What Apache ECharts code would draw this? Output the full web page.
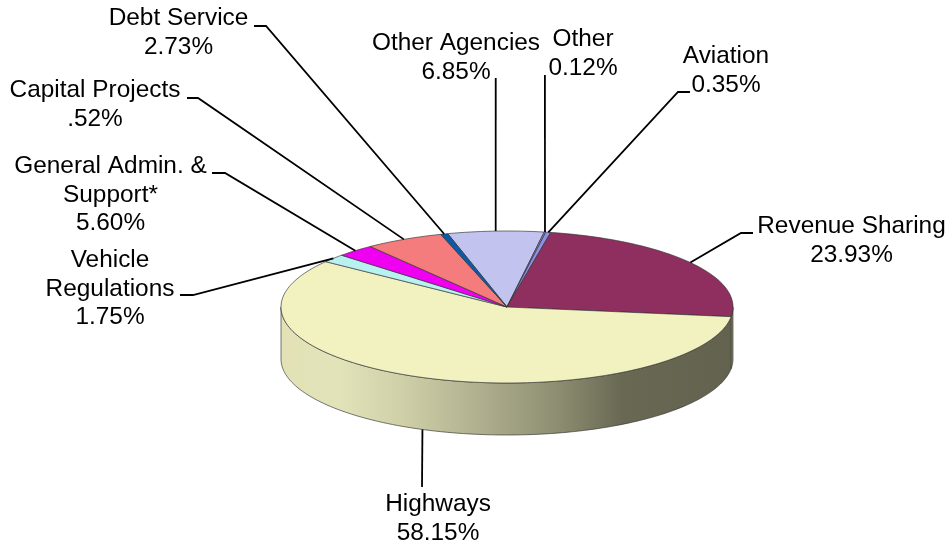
<!DOCTYPE html>
<html>
<head>
<meta charset="utf-8">
<style>
html, body { margin: 0; padding: 0; background: #fff; }
#main { width: 951px; height: 544px; }
</style>
<script src="https://cdn.jsdelivr.net/npm/echarts@6/dist/echarts.min.js"></script>
</head>
<body>
<div id="main"></div>
<script>
// slices clockwise, starting from the one at the top of the pie
var categories = ['Other Agencies', 'Other', 'Aviation', 'Revenue Sharing', 'Highways',
    'Vehicle\nRegulations', 'General Admin. &\nSupport*', 'Capital Projects', 'Debt Service'];
var percentLabels = ['6.85%', '0.12%', '0.35%', '23.93%', '58.15%', '1.75%', '5.60%', '.52%', '2.73%'];
// the labels in the source do not follow slice size on the left side, so slice sizes are kept apart
var sliceValues = [6.85, 0.12, 0.35, 23.93, 58.15, 1.75, 2.73, 5.60, 0.52];

var sliceColors = ['#c3c3f0', '#8585e0', '#8f8fe8', '#8f2f5f', '#f2f1c0', '#b8f2f0', '#f000f0', '#f47c7c', '#0b5aa8'];
var sideStops = [
    { offset: 0, color: '#e2e2b6' },
    { offset: 0.13, color: '#e3e3ba' },
    { offset: 0.27, color: '#cfcfa8' },
    { offset: 0.45, color: '#aeae8e' },
    { offset: 0.62, color: '#8c8c70' },
    { offset: 0.76, color: '#686853' },
    { offset: 1, color: '#62624e' }
];

// pie geometry
var cx = 507, cy = 307, rx = 226, ry = 76, depth = 52, startAngle = -15.2;

// label placement: text centre, first line centre, leader start and elbow
var labelLayout = [
    { x: 456, y: 43, leader: [[495.7, 78]] },
    { x: 583, y: 39, leader: [[544.9, 75]] },
    { x: 726, y: 56, leader: [[690, 92], [678, 92]] },
    { x: 851.5, y: 226, leader: [[753, 233], [741, 233]] },
    { x: 438, y: 504, leader: [[422, 487]], onBottom: true },
    { x: 110, y: 260, leader: [[180, 295], [193, 295]] },
    { x: 110.5, y: 166, leader: [[212, 173], [225, 173]] },
    { x: 95, y: 90, leader: [[187, 98], [198, 98]] },
    { x: 178.5, y: 18, leader: [[254, 26], [266, 26]] }
];

var total = sliceValues.reduce(function (a, b) { return a + b; }, 0);

function sliceAngles(i) {
    var before = 0;
    for (var k = 0; k < i; k++) before += sliceValues[k];
    var a = startAngle + before / total * 360;
    return [a, a + sliceValues[i] / total * 360];
}

function rim(angle, drop) {
    var t = angle * Math.PI / 180;
    return [cx + rx * Math.sin(t), cy + (drop || 0) - ry * Math.cos(t)];
}

function arc(a, b, drop) {
    var pts = [], n = Math.max(2, Math.ceil((b - a) / 1.5));
    for (var i = 0; i <= n; i++) pts.push(rim(a + (b - a) * i / n, drop));
    return pts;
}

var edge = 'rgba(50,50,50,0.65)';

function renderSlice(params) {
    var ang = sliceAngles(params.dataIndex);
    var children = [];
    // wall, only the front half of the pie shows
    var a = Math.max(ang[0], 90), b = Math.min(ang[1], 270);
    if (b > a) {
        children.push({
            type: 'polygon',
            shape: { points: arc(a, b, 0).concat(arc(a, b, depth).reverse()) },
            style: {
                fill: { type: 'linear', x: 0, y: 0, x2: 1, y2: 0, colorStops: sideStops },
                stroke: edge,
                lineWidth: 1
            }
        });
    }
    children.push({
        type: 'polygon',
        shape: { points: [[cx, cy]].concat(arc(ang[0], ang[1], 0)) },
        style: { fill: sliceColors[params.dataIndex], stroke: edge, lineWidth: 1 }
    });
    return { type: 'group', children: children };
}

function renderLabel(params) {
    var i = params.dataIndex, lay = labelLayout[i];
    var ang = sliceAngles(i);
    var tip = rim((ang[0] + ang[1]) / 2, lay.onBottom ? depth : 0);
    var lineHeight = 28.8;
    return {
        type: 'group',
        children: [{
            type: 'polyline',
            shape: { points: lay.leader.concat([tip]) },
            style: { stroke: '#000', lineWidth: 1.8, fill: null }
        }, {
            type: 'text',
            style: {
                text: categories[i] + '\n' + percentLabels[i],
                x: lay.x,
                y: lay.y - lineHeight / 2,
                align: 'center',
                verticalAlign: 'top',
                lineHeight: lineHeight,
                font: '24.4px "Liberation Sans", Arial, sans-serif',
                fill: '#000'
            }
        }]
    };
}

var chart = echarts.init(document.getElementById('main'));
var seriesData = sliceValues.map(function (v, i) {
    return { name: categories[i], value: v };
});

chart.setOption({
    animation: false,
    backgroundColor: '#fff',
    series: [{
        type: 'custom',
        coordinateSystem: 'none',
        silent: true,
        z: 2,
        renderItem: renderSlice,
        data: seriesData
    }, {
        type: 'custom',
        coordinateSystem: 'none',
        silent: true,
        z: 3,
        renderItem: renderLabel,
        data: seriesData
    }]
});
</script>
</body>
</html>
